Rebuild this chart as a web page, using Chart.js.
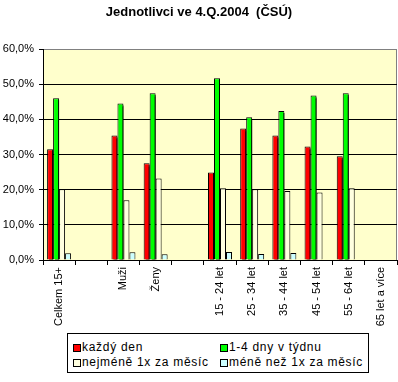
<!DOCTYPE html>
<html><head><meta charset="utf-8">
<script src="https://cdn.jsdelivr.net/npm/chart.js@4/dist/chart.umd.min.js"></script>
<style>
html,body{margin:0;padding:0;background:#fff;}
#wrap{position:relative;width:398px;height:382px;overflow:hidden;font-family:"Liberation Sans",Arial,sans-serif;}
#title{position:absolute;left:0;top:4px;width:398px;text-align:center;font-weight:bold;font-size:13px;line-height:15px;color:#000;white-space:pre;}
#legend{position:absolute;left:67px;top:333px;width:300px;height:38px;border:1px solid #000;background:#fff;}
.li{position:absolute;height:15px;line-height:15px;font-size:12px;letter-spacing:0.7px;color:#000;white-space:nowrap;}
.sw{position:absolute;top:4px;left:0;width:6px;height:6px;border:1px solid #000;}
.li span.t{position:absolute;left:9px;top:0;}
</style>
</head><body>
<div id="wrap">
<canvas id="c" width="398" height="382"></canvas>
<div id="title">Jednotlivci ve 4.Q.2004  (ČSÚ)</div>
<div id="legend"></div>
</div>
<script>
const categories = ['Celkem 15+', '', 'Muži', 'Ženy', '', '15 - 24 let', '25 - 34 let', '35 - 44 let', '45 - 54 let', '55 - 64 let', '65 let a více'];
const seriesNames = ['každý den', '1-4 dny v týdnu', 'nejméně 1x za měsíc', 'méně než 1x za měsíc'];
const kazdyDen = [31.5, null, 35.4, 27.5, null, 24.9, 37.4, 35.4, 32.3, 29.5, null];
const dnyVTydnu = [46.0, null, 44.5, 47.4, null, 51.7, 40.6, 42.4, 46.8, 47.4, null];
const nejmeneMesic = [20.1, null, 17.0, 23.2, null, 20.4, 20.1, 19.6, 19.2, 20.4, null];
const meneMesic = [1.9, null, 2.2, 1.6, null, 2.3, 1.7, 2.0, null, null, null];
const yTicks = [0, 10, 20, 30, 40, 50, 60];

const colors = ['#FF0000', '#00FF00', '#FFFFE0', '#CCFFFF'];
const shadowed = [true, true, false, false];
const allSeries = [kazdyDen, dnyVTydnu, nejmeneMesic, meneMesic];

Chart.defaults.font.family = '"Liberation Sans", Arial, sans-serif';
Chart.defaults.font.size = 11;
Chart.defaults.color = '#000';

const bgPlugin = {
  id: 'plotBg',
  beforeDraw(chart) {
    const {ctx, chartArea: a} = chart;
    ctx.save();
    ctx.fillStyle = '#FFFFCC';
    ctx.fillRect(a.left, a.top, a.right - a.left, a.bottom - a.top);
    ctx.strokeStyle = '#808080';
    ctx.lineWidth = 1;
    ctx.beginPath();
    ctx.moveTo(a.left, a.top + 0.5);
    ctx.lineTo(a.right - 0.5, a.top + 0.5);
    ctx.lineTo(a.right - 0.5, a.bottom);
    ctx.stroke();
    ctx.restore();
  }
};
const shadowPlugin = {
  id: 'barShadow',
  beforeDatasetDraw(chart, args) {
    const ctx = chart.ctx;
    ctx.save();
    if (shadowed[args.index]) {
      ctx.shadowColor = '#000';
      ctx.shadowOffsetX = 2;
      ctx.shadowOffsetY = 2;
      ctx.shadowBlur = 0;
    }
  },
  afterDatasetDraw(chart) {
    chart.ctx.restore();
  }
};

new Chart(document.getElementById('c'), {
  type: 'bar',
  data: {
    labels: categories,
    datasets: allSeries.map((d, i) => ({
      label: seriesNames[i],
      data: d,
      backgroundColor: colors[i],
      borderColor: '#000',
      borderWidth: 1,
      categoryPercentage: 0.745,
      barPercentage: 1.0,
      clip: 0
    }))
  },
  options: {
    responsive: false,
    animation: false,
    devicePixelRatio: 1,
    layout: {padding: {top: 49, right: 1, bottom: 0, left: 0}},
    plugins: {legend: {display: false}, title: {display: false}, tooltip: {enabled: false}},
    scales: {
      x: {
        z: 1,
        grid: {offset: true, drawOnChartArea: false, drawTicks: true, tickLength: 5, tickColor: '#000'},
        border: {color: '#000', width: 1},
        ticks: {autoSkip: false, maxRotation: 90, minRotation: 90, padding: 2, font: {size: 11}},
        afterFit(s) { s.height = 122; }
      },
      y: {
        min: 0, max: 60,
        afterBuildTicks(s) { s.ticks = yTicks.map(v => ({value: v})); },
        grid: {
          color: c => (c.tick && c.tick.value === 60) ? '#808080' : '#000',
          tickColor: '#000', tickLength: 4, lineWidth: 1
        },
        border: {color: '#000', width: 1},
        ticks: {padding: 5, font: {size: 11}, callback: v => v.toFixed(1).replace('.', ',') + '%'},
        afterFit(s) { s.width = 43; }
      }
    }
  },
  plugins: [bgPlugin, shadowPlugin]
});

// HTML legend (2 columns)
const lg = document.getElementById('legend');
const pos = [[5, 6], [152, 6], [5, 21], [152, 21]];
seriesNames.forEach((n, i) => {
  const d = document.createElement('div');
  d.className = 'li';
  d.style.left = pos[i][0] + 'px';
  d.style.top = pos[i][1] + 'px';
  d.innerHTML = '<div class="sw" style="background:' + colors[i] + '"></div><span class="t"></span>';
  d.querySelector('.t').textContent = n;
  lg.appendChild(d);
});
</script>
</body></html>
